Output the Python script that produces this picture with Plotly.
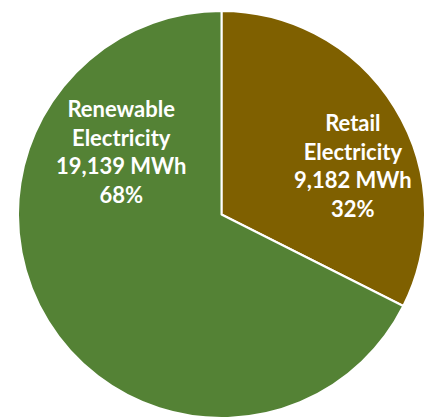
import plotly.graph_objects as go

labels = ["Retail Electricity", "Renewable Electricity"]
values_mwh = [9182, 19139]
colors = ["#7F6000", "#548235"]
# label anchor positions in pixels (layout only)
label_px = [(353, 165), (121, 151)]

W, H = 425, 418
total = sum(values_mwh)

fig = go.Figure()
fig.add_trace(go.Pie(
    labels=labels,
    values=values_mwh,
    sort=False,
    direction="clockwise",
    rotation=0,
    marker=dict(colors=colors, line=dict(color="white", width=2)),
    textinfo="none",
    hoverinfo="label+value+percent",
    showlegend=False,
    domain=dict(x=[18 / W, 1.0], y=[0.0, 1 - 11 / H]),
))

for lab, v, (px, py) in zip(labels, values_mwh, label_px):
    pct = round(100 * v / total)
    txt = lab.replace(" ", "<br>") + f"<br>{v:,} MWh<br>{pct}%"
    fig.add_annotation(
        x=px / W, y=1 - py / H, xref="paper", yref="paper",
        text=txt, showarrow=False, align="center",
        xanchor="center", yanchor="middle",
        font=dict(family="Lato", size=22, color="white", weight="bold"),
    )

fig.update_layout(
    width=W, height=H,
    margin=dict(l=0, r=0, t=0, b=0),
    paper_bgcolor="white",
    plot_bgcolor="white",
)

fig.write_html("out.html")
